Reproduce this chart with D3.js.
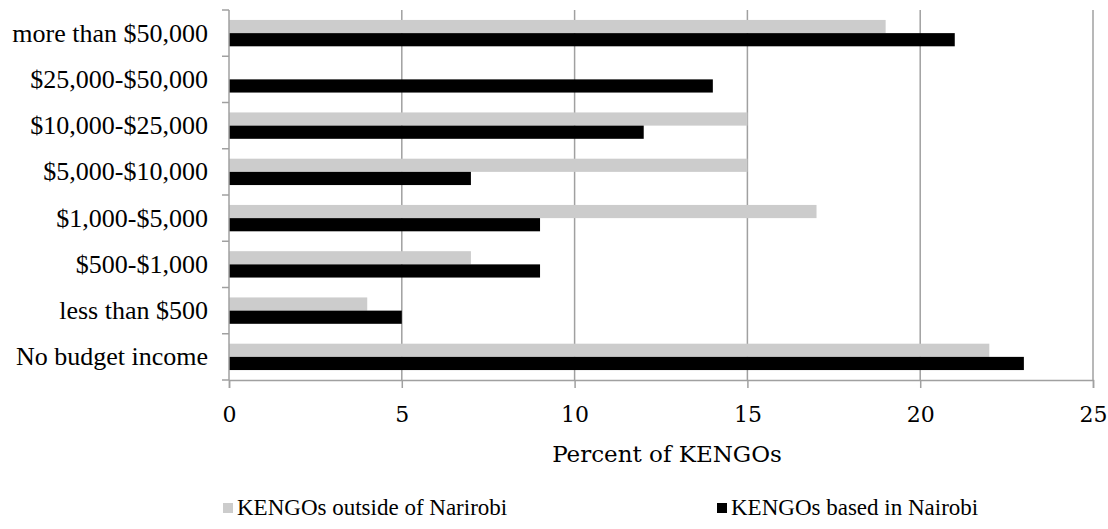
<!DOCTYPE html>
<html>
<head>
<meta charset="utf-8">
<script src="https://cdn.jsdelivr.net/npm/d3@7"></script>
<style>
  html, body { margin: 0; padding: 0; background: #fff; }
  svg text { font-family: "Liberation Serif", "Times New Roman", serif; fill: #000; }
  svg text.alt { font-family: "DejaVu Serif", serif; }
</style>
</head>
<body>
<svg id="chart" width="1108" height="529"></svg>
<script>
// Annual budget bands, listed top to bottom
const categories = [
  "more than $50,000",
  "$25,000-$50,000",
  "$10,000-$25,000",
  "$5,000-$10,000",
  "$1,000-$5,000",
  "$500-$1,000",
  "less than $500",
  "No budget income"
];
const seriesNames = ["KENGOs outside of Narirobi", "KENGOs based in Nairobi"];
const outsideNairobi = [19, 0, 15, 15, 17, 7, 4, 22];
const basedInNairobi = [21, 14, 12, 7, 9, 9, 5, 23];
const xTicks = [0, 5, 10, 15, 20, 25];
const axisTitle = "Percent of KENGOs";
const colors = ["#cccccc", "#000000"];

const rows = categories.map((c, i) => ({ cat: c, values: [outsideNairobi[i], basedInNairobi[i]] }));

const svg = d3.select("#chart");
const margin = { left: 229, right: 15, top: 10, bottom: 149 };
const W = 1108, H = 529;
const plotW = W - margin.left - margin.right;
const plotH = H - margin.top - margin.bottom;

const g = svg.append("g").attr("transform", `translate(${margin.left},${margin.top})`);

const x = d3.scaleLinear().domain([0, 25]).range([0, plotW]);
const y = d3.scaleBand().domain(categories).range([0, plotH]).paddingInner(0.43).paddingOuter(0.215);
const ySub = d3.scaleBand().domain([0, 1]).range([0, y.bandwidth()]);

// vertical gridlines
g.append("g").selectAll("line").data(xTicks.filter(t => t > 0)).join("line")
  .attr("x1", d => x(d)).attr("x2", d => x(d))
  .attr("y1", 0).attr("y2", plotH)
  .attr("stroke", "#a0a0a0").attr("stroke-width", 1.5);

// bars
const grp = g.append("g").selectAll("g").data(rows).join("g")
  .attr("transform", d => `translate(0,${y(d.cat)})`);
grp.selectAll("rect").data(d => d.values.map((v, k) => ({ v, k }))).join("rect")
  .attr("x", 0)
  .attr("y", d => ySub(d.k))
  .attr("width", d => x(d.v))
  .attr("height", ySub.bandwidth())
  .attr("fill", d => colors[d.k]);

// x axis
const xAxis = g.append("g").attr("transform", `translate(0,${plotH})`)
  .call(d3.axisBottom(x).tickValues(xTicks).tickSize(8).tickPadding(14).tickFormat(d3.format("d")));
xAxis.select(".domain").attr("stroke", "#a0a0a0").attr("stroke-width", 1.5);
xAxis.selectAll(".tick line").attr("stroke", "#a0a0a0").attr("stroke-width", 1.5);
xAxis.selectAll(".tick text").attr("class", "alt").attr("dy", null).attr("y", 42)
  .style("font-size", "22px").attr("font-family", null);

// y axis: ticks sit on the category boundaries
const bounds = d3.range(categories.length + 1).map(i => i * plotH / categories.length);
const yAxisG = g.append("g");
yAxisG.append("line").attr("x1", 0).attr("x2", 0).attr("y1", 0).attr("y2", plotH)
  .attr("stroke", "#a0a0a0").attr("stroke-width", 1.5);
yAxisG.selectAll("line.tk").data(bounds).join("line").attr("class", "tk")
  .attr("x1", -7).attr("x2", 0).attr("y1", d => d).attr("y2", d => d)
  .attr("stroke", "#a0a0a0").attr("stroke-width", 1.5);
yAxisG.selectAll("text").data(categories).join("text")
  .attr("x", -21)
  .attr("y", d => y(d) + y.bandwidth() / 2)
  .attr("dy", "0.33em")
  .attr("text-anchor", "end")
  .style("font-size", "26px")
  .text(d => d);

// axis title
svg.append("text").attr("class", "alt")
  .attr("x", margin.left + x(12.5) + 6).attr("y", 462)
  .attr("text-anchor", "middle")
  .style("font-size", "23px")
  .text(axisTitle);

// legend
const legendX = [223, 717];
const leg = svg.append("g").selectAll("g").data(seriesNames).join("g")
  .attr("transform", (d, i) => `translate(${legendX[i]},503)`);
leg.append("rect").attr("width", 10).attr("height", 10).attr("y", 0).attr("fill", (d, i) => colors[i]);
leg.append("text").attr("x", 14).attr("y", 12).style("font-size", "23px").text(d => d);
</script>
</body>
</html>
